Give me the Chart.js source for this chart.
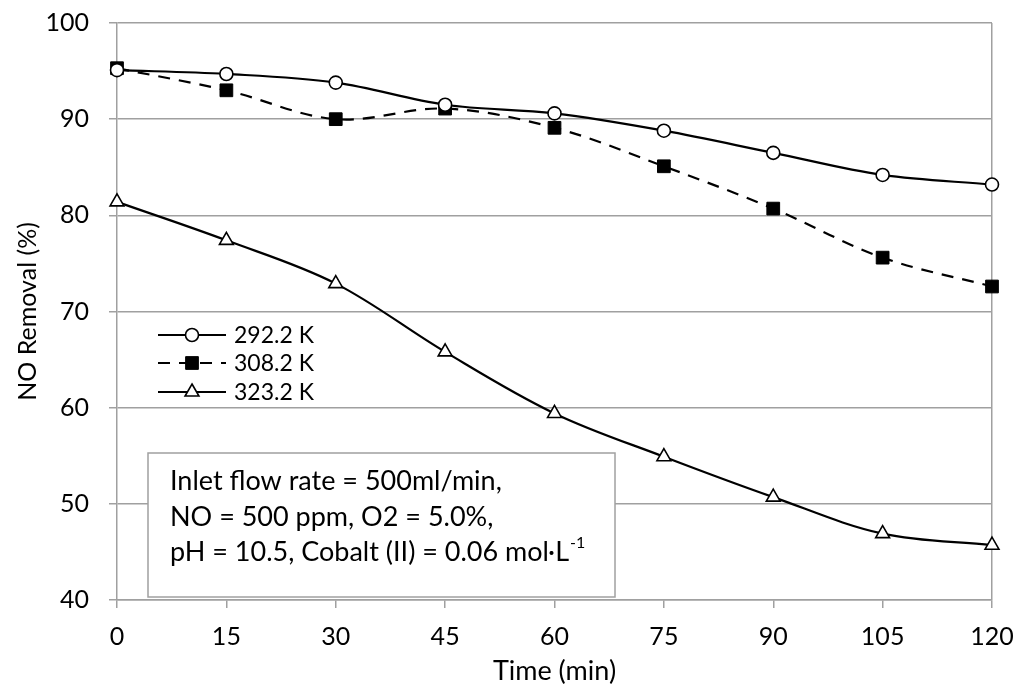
<!DOCTYPE html>
<html>
<head>
<meta charset="utf-8">
<script src="https://cdn.jsdelivr.net/npm/chart.js@4/dist/chart.umd.min.js"></script>
<style>
body { margin: 0; background: #fff; }
</style>
</head>
<body>
<canvas id="removalChart" width="1016" height="691"></canvas>
<script>
// data
const times = [0, 15, 30, 45, 60, 75, 90, 105, 120];
const seriesLabels = ['292.2 K', '308.2 K', '323.2 K'];
const removal292 = [95.1, 94.7, 93.8, 91.5, 90.6, 88.8, 86.5, 84.2, 83.2];
const removal308 = [95.3, 93.0, 90.0, 91.1, 89.1, 85.1, 80.7, 75.6, 72.6];
const removal323 = [81.4, 77.4, 72.9, 65.8, 59.4, 54.9, 50.7, 46.9, 45.7];
const noteLines = ['Inlet flow rate = 500ml/min,', 'NO = 500 ppm, O2 = 5.0%,', 'pH = 10.5, Cobalt (II) = 0.06 mol\u00b7L'];
const noteSup = '-1';

const gridGray = '#a0a0a0';
const fontFamily = 'Lato, "Noto Sans", sans-serif';

function toPoints(values) {
    return times.map((t, i) => ({ x: t, y: values[i] }));
}

const lineDatasets = [
    {
        label: seriesLabels[0],
        data: toPoints(removal292),
        borderColor: '#000',
        borderWidth: 2.2,
        pointStyle: 'circle',
        pointRadius: 6.5,
        pointBackgroundColor: '#fff',
        pointBorderColor: '#000',
        pointBorderWidth: 1.6,
        tension: 0.35,
        clip: false,
    },
    {
        label: seriesLabels[1],
        data: toPoints(removal308),
        borderColor: '#000',
        borderWidth: 2.2,
        borderDash: [12, 9],
        pointStyle: 'rect',
        pointRadius: 9,
        pointBackgroundColor: '#000',
        pointBorderColor: '#000',
        pointBorderWidth: 1,
        tension: 0.35,
        clip: false,
    },
    {
        label: seriesLabels[2],
        data: toPoints(removal323),
        borderColor: '#000',
        borderWidth: 2.2,
        pointStyle: 'triangle',
        pointRadius: 8,
        pointBackgroundColor: '#fff',
        pointBorderColor: '#000',
        pointBorderWidth: 1.6,
        tension: 0.35,
        clip: false,
    },
];

// legend drawn inside the plot, line + marker like the original
const insideLegend = {
    id: 'insideLegend',
    afterDatasetsDraw(chart) {
        const ctx = chart.ctx;
        const rows = [335, 363, 392];
        ctx.save();
        ctx.fillStyle = '#fff';
        ctx.fillRect(143, 314, 183, 91);
        chart.data.datasets.forEach((ds, i) => {
            const y = rows[i];
            ctx.strokeStyle = ds.borderColor;
            ctx.lineWidth = ds.borderWidth;
            ctx.setLineDash(ds.borderDash || []);
            ctx.beginPath();
            ctx.moveTo(158, y);
            ctx.lineTo(226, y);
            ctx.stroke();
            ctx.setLineDash([]);
            ctx.fillStyle = ds.pointBackgroundColor;
            ctx.strokeStyle = ds.pointBorderColor;
            ctx.lineWidth = ds.pointBorderWidth;
            Chart.helpers.drawPoint(ctx, {
                pointStyle: ds.pointStyle,
                radius: ds.pointRadius,
                borderWidth: ds.pointBorderWidth,
                rotation: 0,
            }, 192, y);
            ctx.fillStyle = '#000';
            ctx.font = '23px ' + fontFamily;
            ctx.textBaseline = 'middle';
            ctx.textAlign = 'left';
            ctx.fillText(ds.label, 234, y + 1);
        });
        ctx.restore();
    }
};

// conditions text box
const noteBox = {
    id: 'noteBox',
    afterDatasetsDraw(chart) {
        const ctx = chart.ctx;
        ctx.save();
        ctx.fillStyle = '#fff';
        ctx.fillRect(148, 453, 467, 144);
        ctx.strokeStyle = gridGray;
        ctx.lineWidth = 1.5;
        ctx.strokeRect(148, 453, 467, 144);
        ctx.fillStyle = '#000';
        ctx.font = '27px ' + fontFamily;
        ctx.textBaseline = 'middle';
        ctx.textAlign = 'left';
        const ys = [481, 517, 552];
        noteLines.forEach((line, i) => ctx.fillText(line, 170, ys[i]));
        const w = ctx.measureText(noteLines[2]).width;
        ctx.font = '16px ' + fontFamily;
        ctx.fillText(noteSup, 170 + w + 1, ys[2] - 9);
        ctx.restore();
    }
};

const config = {
    type: 'line',
    data: { datasets: lineDatasets },
    options: {
        responsive: false,
        animation: false,
        layout: { padding: { top: 23, right: 24, left: 0, bottom: 0 } },
        plugins: {
            legend: { display: false },
            tooltip: { enabled: false },
        },
        scales: {
            x: {
                type: 'linear',
                min: 0,
                max: 120,
                afterFit(scale) {
                    scale.height = 91;
                    scale.paddingLeft = 0;
                    scale.paddingRight = 0;
                },
                ticks: {
                    stepSize: 15,
                    color: '#000',
                    padding: 14,
                    font: { family: fontFamily, size: 25 },
                },
                grid: {
                    drawOnChartArea: true,
                    color: (c) => (c.index === 8 ? gridGray : 'rgba(0,0,0,0)'),
                    tickColor: gridGray,
                    tickLength: 8,
                    lineWidth: 1.5,
                },
                border: { color: gridGray, width: 1.5 },
                title: {
                    display: true,
                    text: 'Time (min)',
                    color: '#000',
                    font: { family: fontFamily, size: 27 },
                    padding: { top: 0, bottom: 4 },
                },
            },
            y: {
                min: 40,
                max: 100,
                afterFit(scale) {
                    scale.width = 117;
                    scale.paddingTop = 0;
                    scale.paddingBottom = 0;
                },
                ticks: {
                    stepSize: 10,
                    color: '#000',
                    padding: 20,
                    font: { family: fontFamily, size: 25 },
                },
                grid: {
                    color: gridGray,
                    tickColor: gridGray,
                    tickLength: 8,
                    lineWidth: 1.5,
                },
                border: { color: gridGray, width: 1.5 },
                title: {
                    display: true,
                    text: 'NO Removal (%)',
                    color: '#000',
                    font: { family: fontFamily, size: 25 },
                    padding: { top: 13, bottom: 0 },
                },
            },
        },
    },
    plugins: [insideLegend, noteBox],
};

new Chart(document.getElementById('removalChart').getContext('2d'), config);
</script>
</body>
</html>
